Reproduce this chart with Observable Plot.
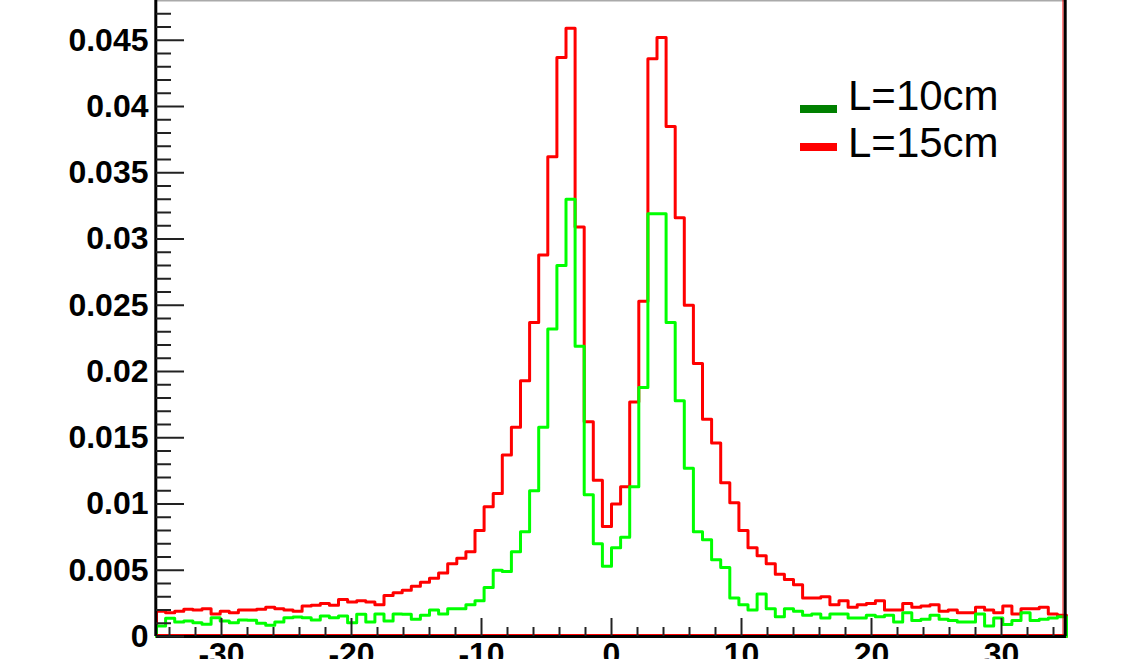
<!DOCTYPE html>
<html>
<head>
<meta charset="utf-8">
<script src="https://cdn.jsdelivr.net/npm/d3@7"></script>
<script src="https://cdn.jsdelivr.net/npm/@observablehq/plot@0.6"></script>
<style>
html, body { margin: 0; padding: 0; background: #fff; overflow: hidden; }
#wrap { position: relative; width: 1139px; height: 659px; font-family: "Liberation Sans", Arial, Helvetica, sans-serif; }
.sw { position: absolute; left: 800px; width: 37px; height: 8px; }
.lt { position: absolute; left: 848px; font-size: 42px; line-height: 42px; color: #000; white-space: nowrap; }
</style>
</head>
<body>
<div id="wrap"></div>
<script>
// Histogram binning (100 bins over [-35, 35])
const binLow = -35;
const binWidth = 0.7;

const seriesNames = ["L=10cm", "L=15cm"];
const lineColors = ["#00ff00", "#ff0000"];
const legendColors = ["#008000", "#ff0000"];

// L=10cm (green)
const valuesL10 = [
  0.0008, 0.00137, 0.0011, 0.00117, 0.00104, 0.00092, 0.00142, 0.00117, 0.00104, 0.00125,
  0.00122, 0.0010, 0.00084, 0.0011, 0.00142, 0.00147, 0.00142, 0.00125, 0.00155, 0.00142,
  0.00155, 0.00104, 0.00167, 0.0011, 0.0017, 0.00117, 0.0017, 0.00167, 0.0013, 0.0016,
  0.0020, 0.0017, 0.0021, 0.0021, 0.0024, 0.0027, 0.0037, 0.0050, 0.0049, 0.0064,
  0.0079, 0.0110, 0.0158, 0.0232, 0.0280, 0.0330, 0.0219, 0.0107, 0.0070, 0.0053,
  0.0067, 0.0075, 0.0113, 0.0188, 0.0319, 0.0319, 0.0237, 0.0178, 0.0127, 0.0079,
  0.0073, 0.0058, 0.0052, 0.0029, 0.0024, 0.0020, 0.0032, 0.0021, 0.0015, 0.0021,
  0.0019, 0.0016, 0.0017, 0.0014, 0.0017, 0.0017, 0.0014, 0.0014, 0.0016, 0.0015,
  0.0016, 0.0011, 0.0018, 0.0012, 0.0013, 0.0016, 0.0013, 0.0012, 0.0011, 0.0011,
  0.0017, 0.0008, 0.0014, 0.0009, 0.0012, 0.0018, 0.0012, 0.0013, 0.0014, 0.0015
];

// L=15cm (red)
const valuesL15 = [
  0.0019, 0.0018, 0.0019, 0.00205, 0.0020, 0.0021, 0.0017, 0.0019, 0.0018, 0.0020,
  0.0020, 0.00205, 0.0022, 0.0021, 0.0020, 0.0019, 0.0023, 0.00235, 0.0025, 0.00235,
  0.0028, 0.0026, 0.0027, 0.0026, 0.0024, 0.0031, 0.0033, 0.0035, 0.0038, 0.0041,
  0.0044, 0.0048, 0.0055, 0.0059, 0.0064, 0.0080, 0.0098, 0.0108, 0.0137, 0.0158,
  0.0193, 0.0237, 0.0288, 0.0362, 0.0437, 0.0459, 0.0309, 0.0162, 0.0118, 0.0083,
  0.0100, 0.0113, 0.0177, 0.0253, 0.0436, 0.0452, 0.0385, 0.0316, 0.0250, 0.0206,
  0.0164, 0.0146, 0.0116, 0.0101, 0.0080, 0.0067, 0.0061, 0.0055, 0.0047, 0.0043,
  0.0039, 0.0029, 0.0029, 0.0030, 0.0024, 0.0027, 0.0022, 0.0024, 0.0025, 0.0027,
  0.0020, 0.0020, 0.0025, 0.0022, 0.0023, 0.0024, 0.0019, 0.0020, 0.0018, 0.0018,
  0.0022, 0.0020, 0.0018, 0.0023, 0.0017, 0.0021, 0.0021, 0.0022, 0.0017, 0.0016
];

const xMajorTicks = [-30, -20, -10, 0, 10, 20, 30];
const xTickLabels = ["-30", "-20", "-10", "0", "10", "20", "30"];
const yMajorTicks = [0, 0.005, 0.01, 0.015, 0.02, 0.025, 0.03, 0.035, 0.04, 0.045];
const yTickLabels = ["0", "0.005", "0.01", "0.015", "0.02", "0.025", "0.03", "0.035", "0.04", "0.045"];
const xMinorTicks = d3.range(-34, 35, 2).filter(v => v % 10 !== 0);
const yMinorTicks = d3.range(1, 48).filter(v => v % 5 !== 0).map(v => v / 1000);

function stepPoints(values) {
  const pts = [{x: binLow, y: 0}];
  values.forEach((v, i) => pts.push({x: binLow + i * binWidth, y: v}));
  const end = binLow + values.length * binWidth;
  pts.push({x: end, y: values[values.length - 1]});
  pts.push({x: end, y: 0});
  return pts;
}

const font = "'Liberation Sans', Arial, Helvetica, sans-serif";

const chart = Plot.plot({
  width: 1139,
  height: 659,
  marginLeft: 156,
  marginRight: 73,
  marginTop: 0,
  marginBottom: 23,
  x: {domain: [-35, 35], label: null},
  y: {domain: [0, 0.048], label: null},
  style: {background: "transparent", fontFamily: font},
  marks: [
    Plot.line(stepPoints(valuesL15), {x: "x", y: "y", curve: "step-after", stroke: lineColors[1], strokeWidth: 3}),
    Plot.line(stepPoints(valuesL10), {x: "x", y: "y", curve: "step-after", stroke: lineColors[0], strokeWidth: 3}),
    // frame
    Plot.ruleY([0.048], {stroke: "#aaaaaa", strokeWidth: 2}),
    Plot.ruleY([0], {stroke: "#ff0000", strokeWidth: 1, dy: -2}),
    Plot.ruleX([35], {stroke: "#ff0000", strokeWidth: 1, dx: -3.5}),
    Plot.ruleX([35], {stroke: "#000", strokeWidth: 3, dx: -1.3}),
    Plot.ruleX([-35], {stroke: "#000", strokeWidth: 3, dx: -0.7}),
    Plot.ruleY([0], {stroke: "#000", strokeWidth: 3}),
    // y ticks (inward)
    Plot.axisY(yMinorTicks, {tickSize: -15, tickFormat: () => "", stroke: "#222", strokeWidth: 2}),
    Plot.axisY(yMajorTicks, {tickSize: -28, tickFormat: () => "", stroke: "#222", strokeWidth: 2}),
    Plot.axisY(yMajorTicks, {tickSize: 0, tickPadding: 8, fontSize: 32, fontWeight: "bold", fill: "#000",
      tickFormat: d => yTickLabels[yMajorTicks.indexOf(d)]}),
    // x ticks (inward)
    Plot.axisX(xMinorTicks, {tickSize: -9, tickFormat: () => "", stroke: "#222", strokeWidth: 2}),
    Plot.axisX(xMajorTicks, {tickSize: -18, tickFormat: () => "", stroke: "#222", strokeWidth: 2}),
    Plot.axisX(xMajorTicks, {tickSize: 0, tickPadding: 6, fontSize: 32, fontWeight: "bold", fill: "#000",
      tickFormat: d => xTickLabels[xMajorTicks.indexOf(d)]})
  ]
});

const wrap = document.getElementById("wrap");
wrap.appendChild(chart);

// Legend
const legendTops = [105, 143];
const legendTextTops = [75, 122];
seriesNames.forEach((name, i) => {
  const sw = document.createElement("div");
  sw.className = "sw";
  sw.style.top = legendTops[i] + "px";
  sw.style.background = legendColors[i];
  wrap.appendChild(sw);
  const t = document.createElement("div");
  t.className = "lt";
  t.style.top = legendTextTops[i] + "px";
  t.textContent = name;
  wrap.appendChild(t);
});
</script>
</body>
</html>
